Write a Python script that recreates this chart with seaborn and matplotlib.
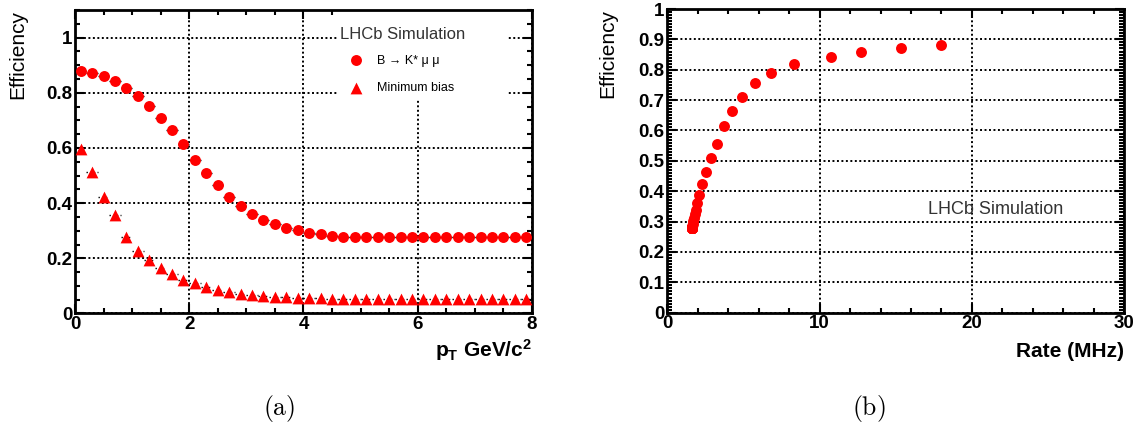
import matplotlib
matplotlib.use("Agg")
import matplotlib.pyplot as plt
from matplotlib.patches import Rectangle
from matplotlib.ticker import MultipleLocator, FuncFormatter
import numpy as np
import pandas as pd
import seaborn as sns

# ---------------------------------------------------------------------------
# (a) efficiency versus transverse-momentum threshold
# ---------------------------------------------------------------------------
pt_cut = [0.1, 0.3, 0.5, 0.7, 0.9, 1.1, 1.3, 1.5, 1.7, 1.9,
          2.1, 2.3, 2.5, 2.7, 2.9, 3.1, 3.3, 3.5, 3.7, 3.9,
          4.1, 4.3, 4.5, 4.7, 4.9, 5.1, 5.3, 5.5, 5.7, 5.9,
          6.1, 6.3, 6.5, 6.7, 6.9, 7.1, 7.3, 7.5, 7.7, 7.9]

eff_signal = [0.878, 0.872, 0.859, 0.842, 0.818, 0.788, 0.753, 0.710, 0.664, 0.616,
              0.558, 0.508, 0.465, 0.422, 0.389, 0.360, 0.338, 0.324, 0.311, 0.302,
              0.293, 0.287, 0.281, 0.278, 0.278, 0.278, 0.278, 0.278, 0.278, 0.278,
              0.278, 0.278, 0.278, 0.278, 0.278, 0.278, 0.278, 0.278, 0.278, 0.278]

eff_minbias = [0.596, 0.511, 0.422, 0.357, 0.278, 0.227, 0.193, 0.166, 0.142, 0.121,
               0.109, 0.097, 0.085, 0.077, 0.070, 0.066, 0.063, 0.061, 0.059, 0.057,
               0.056, 0.055, 0.054, 0.053, 0.053, 0.053, 0.053, 0.053, 0.053, 0.053,
               0.053, 0.053, 0.053, 0.053, 0.053, 0.053, 0.053, 0.053, 0.053, 0.053]

# ---------------------------------------------------------------------------
# (b) signal efficiency versus minimum-bias output rate
# ---------------------------------------------------------------------------
rate_mhz = [17.97, 15.32, 12.70, 10.74, 8.32, 6.81, 5.76, 4.93, 4.25, 3.72,
            3.24, 2.89, 2.55, 2.31, 2.09, 1.98, 1.90, 1.83, 1.76, 1.71,
            1.67, 1.64, 1.62, 1.60, 1.60, 1.60, 1.60, 1.60, 1.60, 1.60,
            1.60, 1.60, 1.60, 1.60, 1.60, 1.60, 1.60, 1.60, 1.60, 1.60]

eff_vs_rate = [0.880, 0.872, 0.859, 0.843, 0.820, 0.789, 0.755, 0.710, 0.664, 0.616,
               0.556, 0.509, 0.464, 0.423, 0.389, 0.361, 0.339, 0.325, 0.312, 0.302,
               0.293, 0.287, 0.282, 0.278, 0.278, 0.278, 0.278, 0.278, 0.278, 0.278,
               0.278, 0.278, 0.278, 0.278, 0.278, 0.278, 0.278, 0.278, 0.278, 0.278]

signal_label = "B \u2192 K* \u03bc \u03bc"
minbias_label = "Minimum bias"
sim_label = "LHCb Simulation"

df_a = pd.DataFrame({"pt": pt_cut, "signal": eff_signal, "minbias": eff_minbias})
df_b = pd.DataFrame({"rate": rate_mhz, "eff": eff_vs_rate})

RED = "#ff0000"

sns.set_theme(style="white")
plt.rcParams.update({
    "font.family": ["Liberation Sans", "DejaVu Sans"],
    "mathtext.fontset": "custom",
    "mathtext.rm": "Liberation Sans",
    "mathtext.bf": "Liberation Sans:bold",
    "mathtext.it": "Liberation Sans:italic",
    "axes.linewidth": 2.0,
    "axes.edgecolor": "black",
    "xtick.direction": "in",
    "ytick.direction": "in",
    "xtick.top": True,
    "ytick.right": True,
    "xtick.bottom": True,
    "ytick.left": True,
    "xtick.color": "black",
    "ytick.color": "black",
    "text.color": "black",
    "axes.labelcolor": "black",
})

fig = plt.figure(figsize=(11.41, 4.25), dpi=100)
ax_a = fig.add_axes([0.0657, 0.2624, 0.4005, 0.7141])
ax_b = fig.add_axes([0.5848, 0.2642, 0.4005, 0.7146])

fmt_g = FuncFormatter(lambda v, _: f"{v:g}")


def style_axes(ax, xmaj, xmin, ymaj, ymin):
    ax.set_axisbelow(True)
    ax.grid(True, which="major", color="black", linestyle=(0, (1, 1.3)), linewidth=1.4)
    ax.xaxis.set_major_locator(MultipleLocator(xmaj))
    ax.xaxis.set_minor_locator(MultipleLocator(xmin))
    ax.yaxis.set_major_locator(MultipleLocator(ymaj))
    ax.yaxis.set_minor_locator(MultipleLocator(ymin))
    ax.xaxis.set_major_formatter(fmt_g)
    ax.yaxis.set_major_formatter(fmt_g)
    ax.tick_params(which="major", length=6.5, width=1.5, labelsize=13.5, pad=2,
                   top=True, right=True)
    ax.tick_params(which="minor", length=3.3, width=1.5, top=True, right=True)
    for lab in ax.get_xticklabels() + ax.get_yticklabels():
        lab.set_fontweight("bold")
    for sp in ax.spines.values():
        sp.set_visible(True)
        sp.set_linewidth(2.0)
        sp.set_color("black")


# ---- panel (a) ----
ax_a.errorbar(df_a["pt"], df_a["signal"], xerr=0.1, fmt="none",
              ecolor="black", elinewidth=1.0, zorder=2)
eb = ax_a.errorbar(df_a["pt"], df_a["minbias"], xerr=0.1, fmt="none",
                   ecolor="black", elinewidth=1.0, zorder=2)
eb[2][0].set_linestyle(":")

sns.scatterplot(data=df_a, x="pt", y="signal", ax=ax_a, marker="o", color=RED,
                s=62, linewidth=0, zorder=3, label=signal_label, legend=False)
sns.scatterplot(data=df_a, x="pt", y="minbias", ax=ax_a, marker="^", color=RED,
                s=72, linewidth=0, zorder=3, label=minbias_label, legend=False)

ax_a.set_xlim(0, 8)
ax_a.set_ylim(0, 1.1)
style_axes(ax_a, 2, 0.5, 0.2, 0.05)

# white panel behind the legend block
ax_a.add_patch(Rectangle((0.575, 0.703), 0.372, 0.297, transform=ax_a.transAxes,
                         facecolor="white", edgecolor="none", zorder=1))
ax_a.text(0.718, 0.918, sim_label, transform=ax_a.transAxes, ha="center",
          va="center", fontsize=12, color="#333333", zorder=4)
handles, labels = ax_a.get_legend_handles_labels()
ax_a.legend(handles, labels, loc="upper left", bbox_to_anchor=(0.590, 0.869),
            frameon=False, fontsize=9, handlelength=1.0, handletextpad=1.18,
            labelspacing=1.25, borderaxespad=0, markerscale=1.0)

ax_a.set_xlabel(r"$\mathbf{p}_{\mathbf{T}}\ \mathbf{GeV/c}^{\mathbf{2}}$",
                fontsize=15, loc="right")
ax_a.xaxis.set_label_coords(1.0, -0.143)
ax_a.xaxis.label.set_va("baseline")
ax_a.set_ylabel("Efficiency", fontsize=15, loc="top")
ax_a.yaxis.set_label_coords(-0.105, 1.0)

# ---- panel (b) ----
sns.scatterplot(data=df_b, x="rate", y="eff", ax=ax_b, marker="o", color=RED,
                s=62, linewidth=0, zorder=3, legend=False)
ax_b.set_xlim(0, 30)
ax_b.set_ylim(0, 1.0)
style_axes(ax_b, 10, 2, 0.1, 0.01)
ax_b.text(21.57, 0.340, sim_label, ha="center", va="center", fontsize=13,
          color="#333333", zorder=4)

ax_b.set_xlabel("Rate (MHz)", fontsize=15, fontweight="bold", loc="right")
ax_b.xaxis.set_label_coords(1.0, -0.146)
ax_b.xaxis.label.set_va("baseline")
ax_b.set_ylabel("Efficiency", fontsize=15, loc="top")
ax_b.yaxis.set_label_coords(-0.110, 1.0)

# sub-figure captions
fig.text(279.5 / 1141, 1 - 409 / 425, r"$\mathrm{(a)}$", math_fontfamily="cm",
         fontsize=18.5, ha="center", va="center")
fig.text(869 / 1141, 1 - 409 / 425, r"$\mathrm{(b)}$", math_fontfamily="cm",
         fontsize=18.5, ha="center", va="center")

fig.savefig("out.png", dpi=100, facecolor="white")
